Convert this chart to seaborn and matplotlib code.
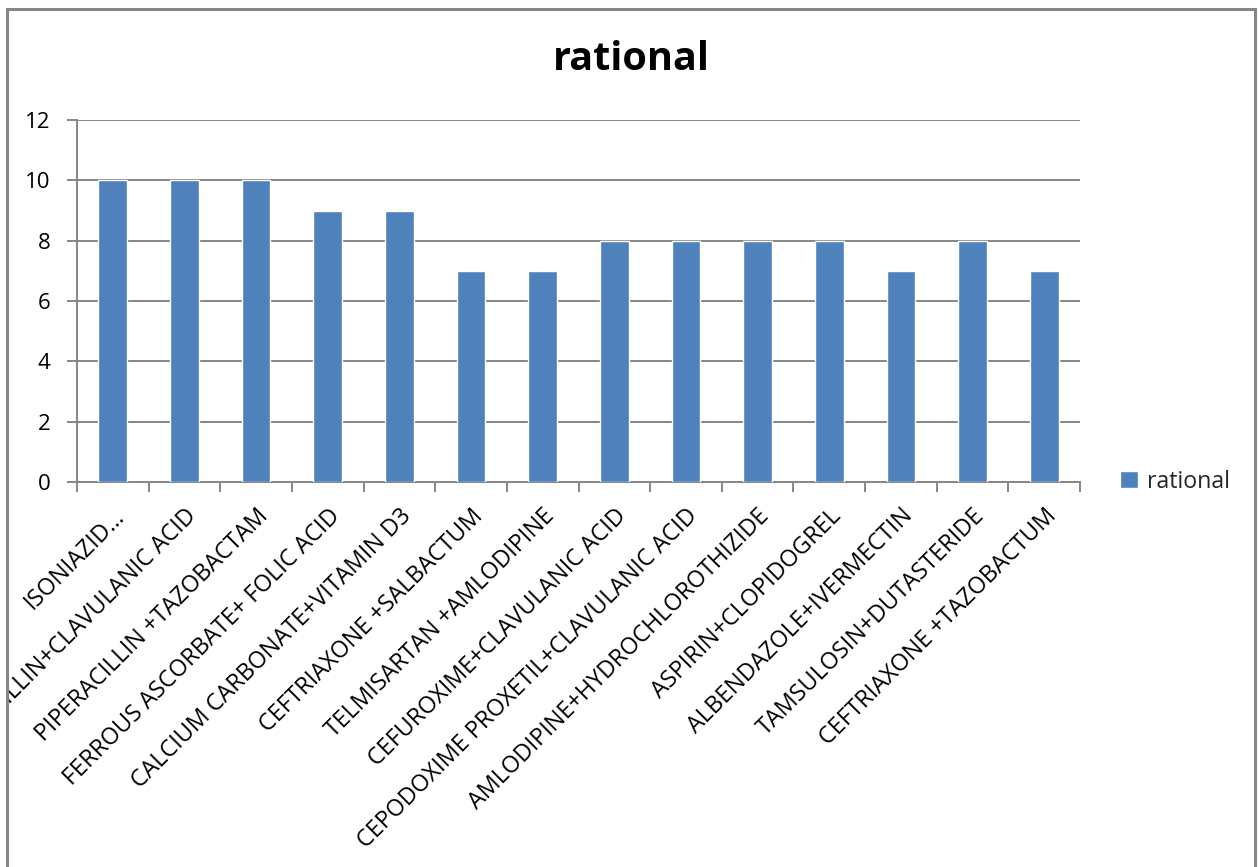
import matplotlib
matplotlib.use("Agg")
import matplotlib.pyplot as plt
import matplotlib.patches as mpatches
import numpy as np
import pandas as pd
import seaborn as sns

categories = [
    "ISONIAZID…",
    "AMOXICILLIN+CLAVULANIC ACID",
    "PIPERACILLIN +TAZOBACTAM",
    "FERROUS ASCORBATE+ FOLIC ACID",
    "CALCIUM CARBONATE+VITAMIN D3",
    "CEFTRIAXONE +SALBACTUM",
    "TELMISARTAN +AMLODIPINE",
    "CEFUROXIME+CLAVULANIC ACID",
    "CEPODOXIME PROXETIL+CLAVULANIC ACID",
    "AMLODIPINE+HYDROCHLOROTHIZIDE",
    "ASPIRIN+CLOPIDOGREL",
    "ALBENDAZOLE+IVERMECTIN",
    "TAMSULOSIN+DUTASTERIDE",
    "CEFTRIAXONE +TAZOBACTUM",
]
rational = [10, 10, 10, 9, 9, 7, 7, 8, 8, 8, 8, 7, 8, 7]
y_ticks = [0, 2, 4, 6, 8, 10, 12]

df = pd.DataFrame({"combination": categories, "rational": rational})

sns.set_theme(style="white")
plt.rcParams["font.family"] = ["Open Sans", "DejaVu Sans"]

W, H = 1260, 867
fig = plt.figure(figsize=(W / 100, H / 100), dpi=100)
ax = fig.add_axes([77 / W, 1 - 482 / H, (1080 - 77) / W, (482 - 120) / H])

bar_color = "#4F81BD"
grey = "#868686"

sns.barplot(data=df, x="combination", y="rational", color=bar_color,
            width=0.4, saturation=1, ax=ax, label="rational", zorder=3)

ax.set_xlim(-0.5, len(categories) - 0.5)
ax.set_ylim(0, 12)
ax.set_yticks(y_ticks)
ax.set_yticklabels([str(v) for v in y_ticks], fontsize=16, color="black")
ax.yaxis.grid(True, color=grey, linewidth=1.4, zorder=0)
ax.set_axisbelow(True)
ax.set_xlabel("")
ax.set_ylabel("")

for side in ["top", "right"]:
    ax.spines[side].set_visible(False)
for side in ["left", "bottom"]:
    ax.spines[side].set_color(grey)
    ax.spines[side].set_linewidth(1.4)

ax.tick_params(axis="y", which="major", left=True, length=7, width=1.4,
               color=grey, pad=12)

# labels at bar centres, tick marks at category boundaries
ax.set_xticks(np.arange(len(categories)))
ax.set_xticklabels(categories, rotation=45, ha="right",
                   rotation_mode="anchor", fontsize=16.8, color="black")
ax.tick_params(axis="x", which="major", bottom=True, length=0, pad=16)
ax.set_xticks(np.arange(len(categories) + 1) - 0.5, minor=True)
ax.tick_params(axis="x", which="minor", bottom=True, length=7, width=1.4,
               color=grey)

# chart area frame
frame = mpatches.Rectangle((7 / W, -0.05), (1255 - 7) / W, 1.05 - 9 / H,
                           transform=fig.transFigure, fill=False,
                           edgecolor=grey, linewidth=2.2, zorder=10)
fig.patches.append(frame)

# keep long category labels inside the chart frame
clip_rect = mpatches.Rectangle((8 / W, 0), (1254 - 8) / W, 1,
                               transform=fig.transFigure, visible=False)
fig.patches.append(clip_rect)
for lbl in ax.get_xticklabels():
    lbl.set_clip_path(clip_rect)
    lbl.set_clip_on(True)

fig.text(631 / W, 1 - 60 / H, "rational", ha="center", va="center",
         fontsize=28.5, fontweight="bold", color="black")

leg = ax.legend(loc="center left", bbox_to_anchor=(1.031, 0.0), frameon=False,
                fontsize=16.7, handlelength=0.75, handleheight=0.75,
                handletextpad=0.4, borderaxespad=0)

fig.savefig("out.png", dpi=100)
